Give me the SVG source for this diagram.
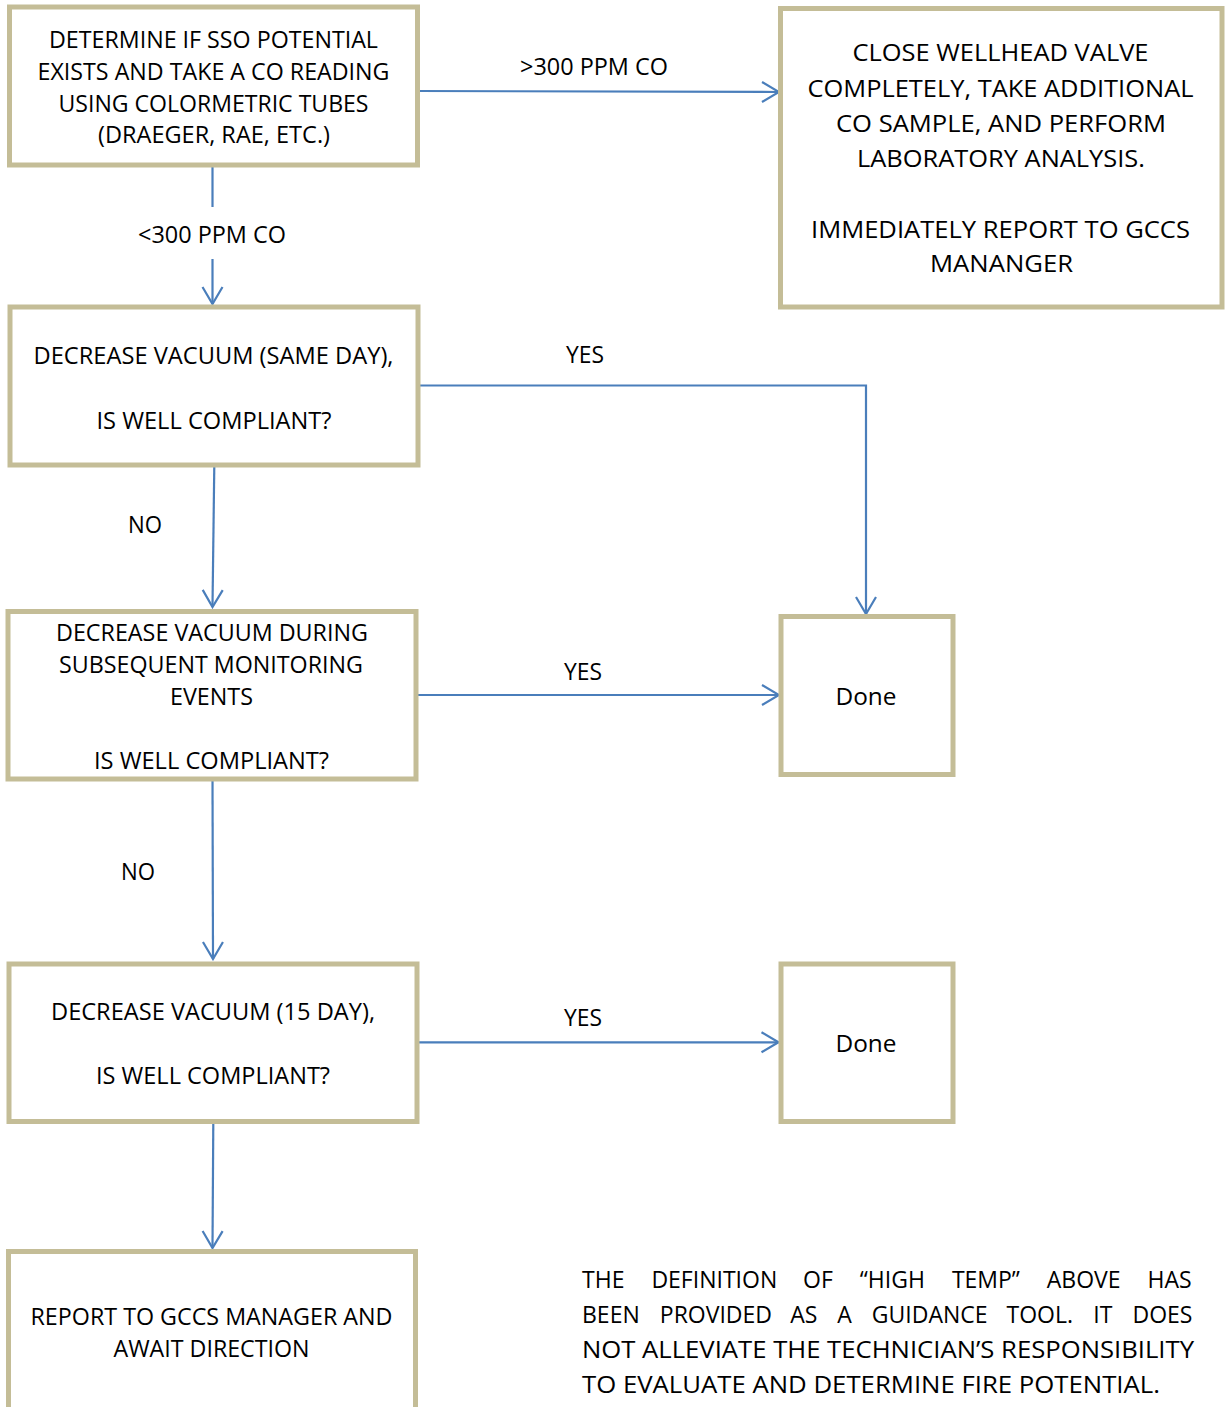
<svg xmlns="http://www.w3.org/2000/svg" width="1228" height="1407" viewBox="0 0 1228 1407">
<style>
.box{fill:#FFFFFF;stroke:#C4BD97;stroke-width:5}
.t{font-family:"Open Sans","Noto Sans","Liberation Sans",sans-serif;font-size:23px;fill:#000000;text-anchor:middle}
.p{font-family:"Open Sans","Noto Sans","Liberation Sans",sans-serif;font-size:23px;fill:#000000}
.c{fill:none;stroke:#4A7EBB;stroke-width:2.2;marker-end:url(#arr)}
</style>
<defs>
<marker id="arr" viewBox="-20 -12 22 24" refX="0" refY="0" markerWidth="22" markerHeight="24" markerUnits="userSpaceOnUse" orient="auto">
<path d="M-17,-10 L0,0 L-17,10" fill="none" stroke="#4A7EBB" stroke-width="2.2"/>
</marker>
</defs>
<rect width="1228" height="1407" fill="#FFFFFF"/>

<g id="connectors">
<path class="c" d="M418,91 L779,92"/>
<path class="c" d="M212.5,167 L212.5,207 M212.5,259 L212.5,304"/>
<path class="c" d="M418,385.5 L866,385.5 L866,614"/>
<path class="c" d="M214.3,465 L212.5,607"/>
<path class="c" d="M416,695 L779,695"/>
<path class="c" d="M212.5,779 L213,959"/>
<path class="c" d="M418,1042.3 L778.5,1042.3"/>
<path class="c" d="M213.3,1122 L212.5,1248"/>
<text class="t" x="212" y="243" textLength="148" lengthAdjust="spacingAndGlyphs">&lt;300 PPM CO</text>
<text class="t" x="594" y="75" textLength="148" lengthAdjust="spacingAndGlyphs">&gt;300 PPM CO</text>
<text class="t" x="585" y="363" textLength="38" lengthAdjust="spacingAndGlyphs">YES</text>
<text class="t" x="583" y="680" textLength="38" lengthAdjust="spacingAndGlyphs">YES</text>
<text class="t" x="583" y="1026" textLength="38" lengthAdjust="spacingAndGlyphs">YES</text>
<text class="t" x="145" y="533" textLength="34" lengthAdjust="spacingAndGlyphs">NO</text>
<text class="t" x="138" y="880" textLength="34" lengthAdjust="spacingAndGlyphs">NO</text>
</g>

<g id="node-determine">
<rect class="box" x="9.5" y="7" width="408" height="158"/>
<text class="t" x="213.5" y="48" textLength="329" lengthAdjust="spacingAndGlyphs">DETERMINE IF SSO POTENTIAL</text>
<text class="t" x="213.5" y="80" textLength="352" lengthAdjust="spacingAndGlyphs">EXISTS AND TAKE A CO READING</text>
<text class="t" x="213.5" y="112" textLength="310" lengthAdjust="spacingAndGlyphs">USING COLORMETRIC TUBES</text>
<text class="t" x="214" y="143" textLength="232" lengthAdjust="spacingAndGlyphs">(DRAEGER, RAE, ETC.)</text>
</g>

<g id="node-close-valve">
<rect class="box" x="780.5" y="8.5" width="441.5" height="298.5"/>
<text class="t" x="1000.5" y="61" textLength="296" lengthAdjust="spacingAndGlyphs">CLOSE WELLHEAD VALVE</text>
<text class="t" x="1000.5" y="96.5" textLength="386" lengthAdjust="spacingAndGlyphs">COMPLETELY, TAKE ADDITIONAL</text>
<text class="t" x="1001" y="131.5" textLength="330" lengthAdjust="spacingAndGlyphs">CO SAMPLE, AND PERFORM</text>
<text class="t" x="1001" y="166.5" textLength="288" lengthAdjust="spacingAndGlyphs">LABORATORY ANALYSIS.</text>
<text class="t" x="1000.5" y="237.5" textLength="379" lengthAdjust="spacingAndGlyphs">IMMEDIATELY REPORT TO GCCS</text>
<text class="t" x="1001.5" y="271.5" textLength="143" lengthAdjust="spacingAndGlyphs">MANANGER</text>
</g>

<g id="node-same-day">
<rect class="box" x="10" y="307" width="408" height="158"/>
<text class="t" x="213.5" y="364" textLength="360" lengthAdjust="spacingAndGlyphs">DECREASE VACUUM (SAME DAY),</text>
<text class="t" x="214" y="428.5" textLength="235" lengthAdjust="spacingAndGlyphs">IS WELL COMPLIANT?</text>
</g>

<g id="node-subsequent">
<rect class="box" x="8" y="611.5" width="408" height="167.5"/>
<text class="t" x="212" y="641" textLength="312" lengthAdjust="spacingAndGlyphs">DECREASE VACUUM DURING</text>
<text class="t" x="211" y="673" textLength="304" lengthAdjust="spacingAndGlyphs">SUBSEQUENT MONITORING</text>
<text class="t" x="211.5" y="704.5" textLength="83" lengthAdjust="spacingAndGlyphs">EVENTS</text>
<text class="t" x="211.5" y="768.5" textLength="235" lengthAdjust="spacingAndGlyphs">IS WELL COMPLIANT?</text>
</g>

<g id="node-done-1">
<rect class="box" x="781" y="616.5" width="172" height="158"/>
<text class="t" x="866" y="705" textLength="61" lengthAdjust="spacingAndGlyphs">Done</text>
</g>

<g id="node-15-day">
<rect class="box" x="9" y="964" width="408" height="157.5"/>
<text class="t" x="213" y="1020" textLength="324" lengthAdjust="spacingAndGlyphs">DECREASE VACUUM (15 DAY),</text>
<text class="t" x="213" y="1084" textLength="234" lengthAdjust="spacingAndGlyphs">IS WELL COMPLIANT?</text>
</g>

<g id="node-done-2">
<rect class="box" x="781" y="964" width="172" height="157.5"/>
<text class="t" x="866" y="1051.5" textLength="61" lengthAdjust="spacingAndGlyphs">Done</text>
</g>

<g id="node-report">
<rect class="box" x="8.5" y="1251.5" width="407" height="220"/>
<text class="t" x="211.5" y="1324.5" textLength="362" lengthAdjust="spacingAndGlyphs">REPORT TO GCCS MANAGER AND</text>
<text class="t" x="211.5" y="1357" textLength="196" lengthAdjust="spacingAndGlyphs">AWAIT DIRECTION</text>
</g>

<g id="note">
<text class="p" y="1288"><tspan x="582">THE</tspan><tspan x="651.4">DEFINITION</tspan><tspan x="803.1">OF</tspan><tspan x="859.8">“HIGH</tspan><tspan x="951.9">TEMP”</tspan><tspan x="1046.8">ABOVE</tspan><tspan x="1147.6">HAS</tspan></text>
<text class="p" y="1323"><tspan x="582">BEEN</tspan><tspan x="659.8">PROVIDED</tspan><tspan x="790.3">AS</tspan><tspan x="837.3">A</tspan><tspan x="871.8">GUIDANCE</tspan><tspan x="1006.5">TOOL.</tspan><tspan x="1093.3">IT</tspan><tspan x="1132.5">DOES</tspan></text>
<text class="p" x="582" y="1358" textLength="612" lengthAdjust="spacingAndGlyphs">NOT ALLEVIATE THE TECHNICIAN’S RESPONSIBILITY</text>
<text class="p" x="582" y="1393" textLength="578" lengthAdjust="spacingAndGlyphs">TO EVALUATE AND DETERMINE FIRE POTENTIAL.</text>
</g>
</svg>
